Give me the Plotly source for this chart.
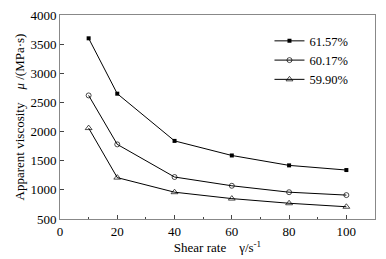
import plotly.graph_objects as go

shear_rate = [10, 20, 40, 60, 80, 100]
s1_name = "61.57%"
s1 = [3600, 2650, 1840, 1590, 1420, 1340]
s2_name = "60.17%"
s2 = [2620, 1780, 1220, 1070, 960, 910]
s3_name = "59.90%"
s3 = [2060, 1210, 960, 850, 770, 710]

FONT = "Liberation Serif, Times New Roman, serif"

fig = go.Figure()
fig.add_trace(go.Scatter(x=shear_rate, y=s1, name=s1_name, mode="lines+markers",
                         line=dict(color="black", width=1),
                         marker=dict(symbol="square", size=4, color="black")))
fig.add_trace(go.Scatter(x=shear_rate, y=s2, name=s2_name, mode="lines+markers",
                         line=dict(color="black", width=1),
                         marker=dict(symbol="circle-open", size=5, color="black", line=dict(width=0.7))))
fig.add_trace(go.Scatter(x=shear_rate, y=s3, name=s3_name, mode="lines+markers",
                         line=dict(color="black", width=1),
                         marker=dict(symbol="triangle-up-open", size=6, color="black", line=dict(width=0.7))))

# The page body has an 8px margin, so the figure is shrunk by 8px and margins compensated.
fig.update_layout(
    width=378, height=251,
    margin=dict(l=52, r=11, t=7, b=40),
    paper_bgcolor="white", plot_bgcolor="white",
    font=dict(family=FONT, size=13, color="black"),
    showlegend=True,
    legend=dict(x=0.665, y=0.945, xanchor="left", yanchor="top",
                bgcolor="rgba(0,0,0,0)", font=dict(size=12.5, family=FONT),
                itemwidth=30, tracegroupgap=0),
    xaxis=dict(range=[0, 110], tickvals=[0, 20, 40, 60, 80, 100], automargin=False,
               ticks="inside", ticklen=4, tickcolor="#444", showgrid=False, zeroline=False,
               showline=True, linecolor="#888", linewidth=1, mirror=True,
               ticklabeloverflow="allow",
               minor=dict(tickvals=[10, 30, 50, 70, 90, 110], ticks="inside", ticklen=2, tickcolor="#444"),
               title=dict(text="Shear rate    γ/s<sup>-1</sup>", font=dict(size=13, family=FONT), standoff=2),
               tickfont=dict(size=13, family=FONT)),
    yaxis=dict(range=[500, 4000], tickvals=[500, 1000, 1500, 2000, 2500, 3000, 3500, 4000], automargin=False,
               ticks="inside", ticklen=4, tickcolor="#444", showgrid=False, zeroline=False,
               showline=True, linecolor="#888", linewidth=1, mirror=True,
               ticklabeloverflow="allow",
               title=dict(text="Apparent viscosity    <i>μ</i> /(MPa·s)", font=dict(size=13, family=FONT), standoff=2),
               tickfont=dict(size=13, family=FONT)),
)

fig.write_html("out.html")
